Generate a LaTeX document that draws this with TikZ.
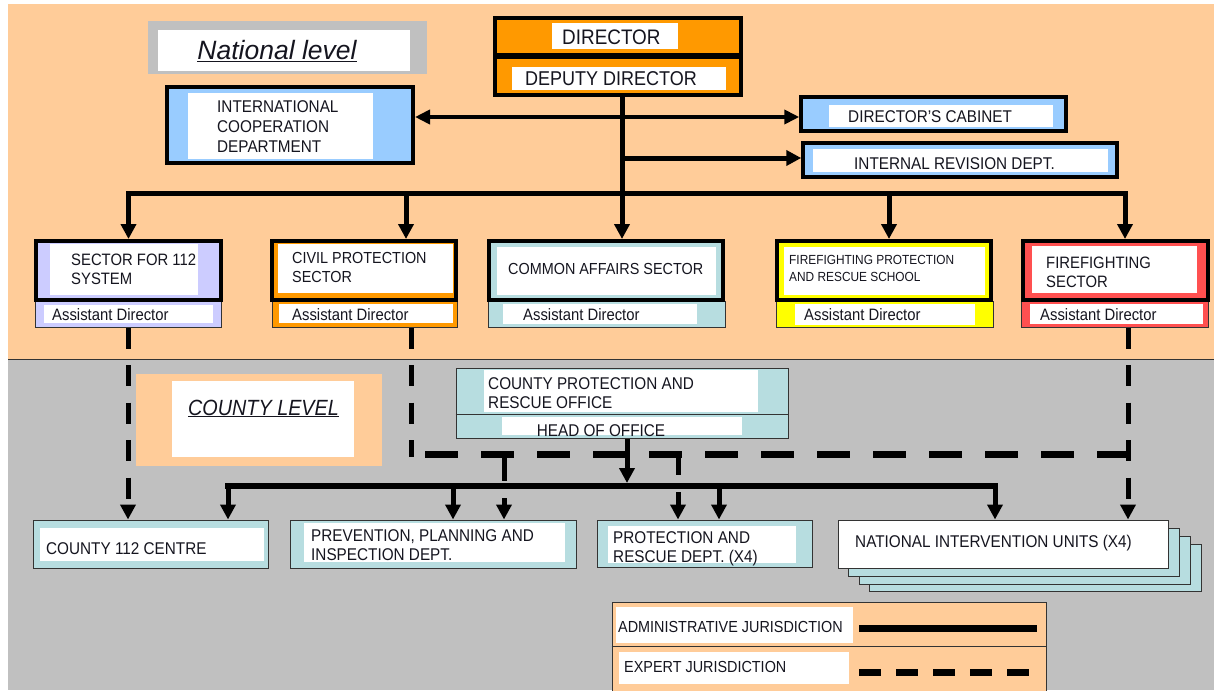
\documentclass[tikz,border=0pt]{standalone}
\usepackage{fontspec}
\setmainfont{Liberation Sans}[FakeStretch=0.9]
\newfontfamily\plainsans{Liberation Sans}
\usetikzlibrary{arrows.meta}

\definecolor{peach}{HTML}{FFCC99}
\definecolor{panelgray}{HTML}{C0C0C0}
\definecolor{deporange}{HTML}{FF9900}
\definecolor{skyblue}{HTML}{99CCFF}
\definecolor{lavender}{HTML}{CCCCFF}
\definecolor{paleteal}{HTML}{B7DDE0}
\definecolor{brightyellow}{HTML}{FFFF00}
\definecolor{coral}{HTML}{FF5050}
\definecolor{edge}{HTML}{333333}
\definecolor{ink}{HTML}{15151F}

% box from its border-path corners: style, name, x1, y1, x2, y2
\newcommand{\orgbox}[6]{\node[#1, minimum width={(#5)-(#3)}, minimum height={(#6)-(#4)}] (#2) at ({((#3)+(#5))/2},{((#4)+(#6))/2}) {};}
% white label panel inside a box
\newcommand{\whitepad}[4]{\fill[white] (#1,#2) rectangle (#3,#4);}

\begin{document}
\begin{tikzpicture}[x=1pt,y=-1pt,
  heavybox/.style={draw=black, line width=4pt, inner sep=0pt},
  lightbox/.style={draw=edge, line width=1pt, inner sep=0pt},
  boxtext/.style={anchor=base west, inner sep=0pt, text=ink, font=\fontsize{17}{20}\selectfont},
  sz/.style={font=\fontsize{#1}{#1}\selectfont},
  tip/.style={-{Triangle[length=15pt,width=15pt]}},
  adminline/.style={draw=black, line width=5pt},
  adminarrow/.style={adminline, tip},
  expertv/.style={draw=black, line width=5pt, dash pattern=on 21pt off 16.5pt},
  experth/.style={draw=black, line width=7pt, dash pattern=on 33pt off 23pt, dash phase=42pt},
]
\useasboundingbox (0,0) rectangle (1214,690);

% ---------- level bands
\fill[white] (0,0) rectangle (1214,690);
\fill[peach] (8,4) rectangle (1214,359);
\fill[panelgray] (8,359) rectangle (1214,690);
\draw[edge, line width=1pt] (8,359) -- (1214,359);

% ---------- national level caption
\fill[panelgray] (148,21) rectangle (427,74);
\whitepad{158}{30}{410}{71}
\node[inner sep=0pt, anchor=base, text=ink, font=\plainsans\fontsize{26.5}{30}\selectfont\itshape] (natl) at (277,60) {\underline{National level}};

% ---------- director / deputy
\orgbox{heavybox, fill=deporange}{dir}{495}{18}{741}{55}
\orgbox{heavybox, fill=deporange}{dep}{495}{57}{741}{95}
\whitepad{552}{23}{678}{49}
\whitepad{512}{67}{726}{90}
\node[boxtext, sz=21] (dir-t) at (562,45) {DIRECTOR};
\node[boxtext, sz=20] (dep-t) at (525,86) {DEPUTY DIRECTOR};

% ---------- international cooperation
\orgbox{heavybox, fill=skyblue}{icd}{167}{87}{413}{163}
\whitepad{188}{93}{373}{159}
\node[boxtext] (icd-1) at (217,113) {INTERNATIONAL};
\node[boxtext] (icd-2) at (217,132) {COOPERATION};
\node[boxtext] (icd-3) at (217,152) {DEPARTMENT};

% ---------- cabinet and internal revision
\orgbox{heavybox, line width=3.5pt, fill=skyblue}{cab}{801}{97}{1066}{131}
\whitepad{829}{105}{1053}{127}
\node[boxtext] (cab-t) at (848,122) {DIRECTOR'S CABINET};
\orgbox{heavybox, line width=3.5pt, fill=skyblue}{rev}{803}{143}{1117}{177}
\whitepad{813}{149}{1108}{172}
\node[boxtext] (rev-t) at (854,169) {INTERNAL REVISION DEPT.};

% ---------- sectors (assistant rows first, sector frames over them)
\orgbox{lightbox, fill=lavender}{a1}{35}{301}{221}{327}
\whitepad{44}{305}{213}{323}
\orgbox{heavybox, fill=lavender}{s1}{36}{241}{221}{300}
\whitepad{50}{244}{198}{295}
\node[boxtext, sz=16.5] (s1-1) at (71,265) {SECTOR FOR 112};
\node[boxtext, sz=16.5] (s1-2) at (71,284) {SYSTEM};
\node[boxtext, sz=16.5] (a1-t) at (52,320) {Assistant Director};

\orgbox{lightbox, fill=deporange}{a2}{272}{301}{457}{327}
\whitepad{279}{304}{453}{323}
\orgbox{heavybox, fill=deporange}{s2}{272}{241}{456}{300}
\whitepad{278}{244}{453}{293}
\node[boxtext, sz=16] (s2-1) at (292,263) {CIVIL PROTECTION};
\node[boxtext, sz=16] (s2-2) at (292,282) {SECTOR};
\node[boxtext, sz=16.5] (a2-t) at (292,320) {Assistant Director};

\orgbox{lightbox, fill=paleteal}{a3}{488}{301}{725}{327}
\whitepad{503}{304}{697}{324}
\orgbox{heavybox, fill=paleteal}{s3}{489}{241}{723}{300}
\whitepad{497}{247}{716}{295}
\node[boxtext, sz=16] (s3-1) at (508,274) {COMMON AFFAIRS SECTOR};
\node[boxtext, sz=16.5] (a3-t) at (523,320) {Assistant Director};

\orgbox{lightbox, fill=brightyellow}{a4}{776}{301}{993}{327}
\whitepad{795}{304}{975}{325}
\orgbox{heavybox, fill=brightyellow}{s4}{777}{241}{991}{300}
\whitepad{784}{247}{985}{295}
\node[boxtext, sz=13.2] (s4-1) at (789,264) {FIREFIGHTING PROTECTION};
\node[boxtext, sz=13.2] (s4-2) at (789,281) {AND RESCUE SCHOOL};
\node[boxtext, sz=16.5] (a4-t) at (804,320) {Assistant Director};

\orgbox{lightbox, fill=coral}{a5}{1021}{301}{1208}{327}
\whitepad{1030}{304}{1203}{324}
\orgbox{heavybox, fill=coral}{s5}{1023}{241}{1208}{300}
\whitepad{1032}{246}{1197}{293}
\node[boxtext, sz=16.5] (s5-1) at (1046,268) {FIREFIGHTING};
\node[boxtext, sz=16.5] (s5-2) at (1046,287) {SECTOR};
\node[boxtext, sz=16.5] (a5-t) at (1040,320) {Assistant Director};

% ---------- national administrative links
\coordinate (trunk) at ([xshift=4pt]dep.south);
\coordinate (busmid) at (trunk |- 0,193);
\coordinate (s1in) at (s1.north);
\coordinate (s2in) at ([xshift=42pt]s2.north);
\coordinate (s3in) at ([xshift=16pt]s3.north);
\coordinate (s4in) at ([xshift=5pt]s4.north);
\coordinate (s5in) at ([xshift=9.5pt]s5.north);
\draw[adminline] (trunk) -- (busmid);
\draw[adminline, line width=4.5pt, {Triangle[length=15pt,width=14pt]}-{Triangle[length=15pt,width=14pt]}] (icd.east |- 0,117) -- (cab.west |- 0,117);
\draw[adminarrow] (trunk |- 0,158) -- (rev.west |- 0,158);
\draw[adminline, line cap=rect] (s1in |- busmid) -- (s5in |- busmid);
\foreach \s in {s1in,s2in,s3in,s4in,s5in}
  \draw[adminarrow] (\s |- busmid) -- (\s);

% ---------- county level caption
\fill[peach] (136,374) rectangle (382,466);
\whitepad{172}{381}{354}{457}
\node[inner sep=0pt, anchor=base west, text=ink, font=\fontsize{22}{26}\selectfont\itshape] (cty) at (188,415) {\underline{COUNTY LEVEL}};

% ---------- county protection and rescue office
\orgbox{lightbox, fill=paleteal}{cpo}{456}{368}{788}{438}
\draw[edge, line width=1pt] (cpo.west |- 0,414) -- (cpo.east |- 0,414);
\whitepad{484}{370}{758}{412}
\whitepad{502}{417}{742}{435}
\node[boxtext] (cpo-1) at (488,389) {COUNTY PROTECTION AND};
\node[boxtext] (cpo-2) at (488,408) {RESCUE OFFICE};
\node[boxtext, anchor=base] (cpo-h) at (601,436) {HEAD OF OFFICE};

% ---------- county departments
\orgbox{lightbox, fill=paleteal}{c112}{33}{520}{268}{568}
\whitepad{40}{528}{264}{561}
\node[boxtext] (c112-t) at (46,554) {COUNTY 112 CENTRE};

\orgbox{lightbox, fill=paleteal}{prev}{290}{520}{576}{568}
\whitepad{304}{523}{565}{562}
\node[boxtext] (prev-1) at (311,541) {PREVENTION, PLANNING AND};
\node[boxtext] (prev-2) at (311,560) {INSPECTION DEPT.};

\orgbox{lightbox, fill=paleteal}{prot}{597}{520}{812}{567}
\whitepad{608}{526}{796}{563}
\node[boxtext] (prot-1) at (613,543) {PROTECTION AND};
\node[boxtext] (prot-2) at (613,562) {RESCUE DEPT. (X4)};

\orgbox{lightbox, fill=paleteal}{niu3}{869}{544}{1201}{591}
\orgbox{lightbox, fill=paleteal}{niu2}{859}{536}{1190}{584}
\orgbox{lightbox, fill=paleteal}{niu1}{848}{528}{1179}{576}
\orgbox{lightbox, fill=white}{niu}{838}{520}{1168}{568}
\node[boxtext] (niu-t) at (855,547) {NATIONAL INTERVENTION UNITS (X4)};

% ---------- expert jurisdiction links
\coordinate (civdrop) at ([xshift=46.5pt]a2.south);
\coordinate (ffdrop) at ([xshift=13.5pt]a5.south);
\coordinate (civcorner) at (civdrop |- 0,454);
\coordinate (ffcorner) at (ffdrop |- 0,454);
\coordinate (prevexp) at ([xshift=71pt]prev.north);
\coordinate (protexp) at ([xshift=-26.5pt]prot.north);
\draw[expertv, tip] (a1.south) -- (a1.south |- c112.north);
\draw[expertv] (civdrop) -- (civdrop |- 0,457);
\draw[experth] (civcorner) -- (ffcorner);
\draw[expertv, tip] (ffdrop) -- (ffdrop |- niu.north);
\draw[draw=black, line width=5pt, dash pattern=on 27pt off 17pt on 40pt off 1pt, tip] (prevexp |- civcorner) -- (prevexp);
\draw[draw=black, line width=5pt, dash pattern=on 21pt off 17pt on 40pt off 1pt, tip] (protexp |- civcorner) -- (protexp);

% ---------- county administrative links
\coordinate (cpoout) at ([xshift=5pt]cpo.south);
\coordinate (c112in) at ([xshift=77.5pt]c112.north);
\coordinate (previn) at ([xshift=20pt]prev.north);
\coordinate (protin) at ([xshift=14.5pt]prot.north);
\coordinate (niuin) at ([xshift=-8pt]niu.north);
\draw[adminarrow] (cpoout) -- (cpoout |- 0,483);
\draw[adminline, line width=6pt, line cap=rect] (c112in |- 0,486) -- (niuin |- 0,486);
\foreach \d in {c112in,previn,protin,niuin}
  \draw[adminarrow] (\d |- 0,486) -- (\d);

% ---------- legend
\orgbox{lightbox, fill=peach}{legend}{612}{602}{1046}{700}
\draw[edge, line width=1pt] (legend.west |- 0,646) -- (legend.east |- 0,646);
\whitepad{616}{607}{853}{643}
\whitepad{619}{652}{849}{684}
\node[boxtext, sz=16] (leg-a) at (618,632) {ADMINISTRATIVE JURISDICTION};
\node[boxtext, sz=16] (leg-e) at (624,672) {EXPERT JURISDICTION};
\coordinate (solidA) at (859,628);
\coordinate (solidB) at (1037,628);
\coordinate (dashA) at (859,672);
\coordinate (dashB) at (1030,672);
\draw[black, line width=7pt] (solidA) -- (solidB);
\draw[black, line width=7pt, dash pattern=on 22pt off 15pt] (dashA) -- (dashB);
\end{tikzpicture}
\end{document}
